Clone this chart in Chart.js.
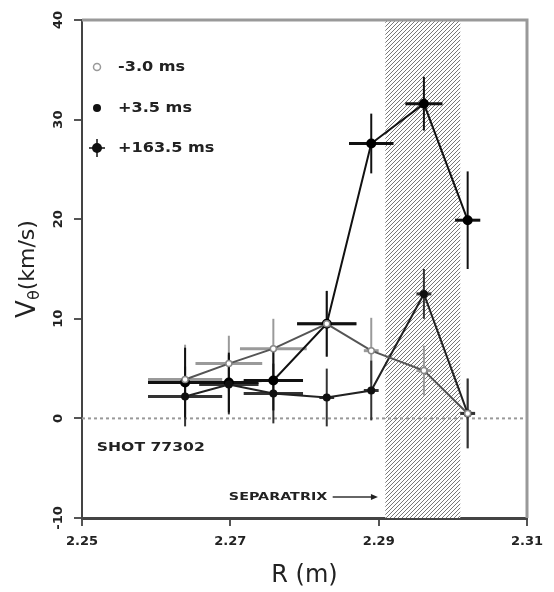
<!DOCTYPE html>
<html>
<head>
<meta charset="utf-8">
<style>
  html, body { margin: 0; padding: 0; background: #fff; }
  #wrap { width: 554px; height: 592px; }
</style>
<script src="https://cdn.jsdelivr.net/npm/chart.js@4.4.1/dist/chart.umd.min.js"></script>
</head>
<body>
<div id="wrap"><canvas id="vChart" width="554" height="592"></canvas></div>
<script>
// chord radii (m)
const radius = [2.2639, 2.2698, 2.2758, 2.2830, 2.2890, 2.2961, 2.3020];

// poloidal velocity (km/s) with vertical and radial error bars, per time slice
const vMinus3 = [3.9, 5.5, 7.0, 9.5, 6.8, 4.8, 0.5];
const vErrMinus3 = [3.5, 2.8, 3.0, 3.3, 3.3, 2.5, 3.5];
const rErrMinus3 = [0.005, 0.0045, 0.0045, 0.004, 0.001, 0.001, 0.001];

const vPlus3 = [2.2, 3.4, 2.5, 2.1, 2.8, 12.5, 0.5];
const vErrPlus3 = [3.0, 3.0, 3.0, 2.9, 3.0, 2.5, 3.5];
const rErrPlus3 = [0.005, 0.004, 0.004, 0.001, 0.001, 0.001, 0.001];

const vPlus163 = [3.6, 3.6, 3.8, 9.5, 27.6, 31.6, 19.9];
const vErrPlus163 = [3.5, 3.0, 3.0, 3.3, 3.0, 2.7, 4.9];
const rErrPlus163 = [0.005, 0.004, 0.004, 0.004, 0.003, 0.0025, 0.0017];

const seriesLabels = ['-3.0 ms', '+3.5 ms', '+163.5 ms'];

// axis ticks
const rTicks = [2.25, 2.27, 2.29, 2.31];
const vTicks = [-10, 0, 10, 20, 30, 40];

// separatrix band (m)
const separatrix = [2.2909, 2.3010];

const toPoints = (ys) => radius.map((r, i) => ({ x: r, y: ys[i] }));

// diagonal hatch for the separatrix band
function makeHatch() {
  const s = 4;
  const c = document.createElement('canvas');
  c.width = s; c.height = s;
  const g = c.getContext('2d');
  g.fillStyle = '#fff';
  g.fillRect(0, 0, s, s);
  g.strokeStyle = '#777';
  g.lineWidth = 1;
  g.beginPath();
  g.moveTo(0, s); g.lineTo(s, 0);
  g.moveTo(-1, 1); g.lineTo(1, -1);
  g.moveTo(s - 1, s + 1); g.lineTo(s + 1, s - 1);
  g.stroke();
  return g.createPattern(c, 'repeat');
}

function stretchText(ctx, text, x, y, font, sx, align) {
  ctx.save();
  ctx.font = font;
  ctx.translate(x, y);
  ctx.scale(sx, 1);
  ctx.textAlign = align || 'left';
  ctx.textBaseline = 'middle';
  ctx.fillText(text, 0, 0);
  ctx.restore();
}

const backdrop = {
  id: 'backdrop',
  beforeDatasetsDraw(chart) {
    const { ctx, chartArea: a, scales: { x, y } } = chart;
    ctx.save();
    // separatrix band
    const x0 = x.getPixelForValue(separatrix[0]);
    const x1 = x.getPixelForValue(separatrix[1]);
    ctx.fillStyle = makeHatch();
    ctx.fillRect(x0, a.top, x1 - x0, a.bottom - a.top);
    // zero line
    const y0 = y.getPixelForValue(0);
    ctx.strokeStyle = '#999';
    ctx.lineWidth = 2;
    ctx.setLineDash([3, 3]);
    ctx.beginPath();
    ctx.moveTo(a.left, y0);
    ctx.lineTo(a.right, y0);
    ctx.stroke();
    ctx.restore();
  }
};

const errorBars = {
  id: 'errorBars',
  beforeDatasetsDraw(chart) {
    const { ctx, scales: { x, y } } = chart;
    chart.data.datasets.forEach((ds) => {
      ctx.save();
      ctx.strokeStyle = ds.errColor;
      ds.data.forEach((p, j) => {
        const px = x.getPixelForValue(p.x);
        const py = y.getPixelForValue(p.y);
        ctx.lineWidth = 2;
        ctx.beginPath();
        ctx.moveTo(px, y.getPixelForValue(p.y - ds.vErr[j]));
        ctx.lineTo(px, y.getPixelForValue(p.y + ds.vErr[j]));
        ctx.stroke();
        ctx.lineWidth = 3;
        ctx.beginPath();
        ctx.moveTo(x.getPixelForValue(p.x - ds.rErr[j]), py);
        ctx.lineTo(x.getPixelForValue(p.x + ds.rErr[j]), py);
        ctx.stroke();
      });
      ctx.restore();
    });
  }
};

const labels = {
  id: 'labels',
  afterDraw(chart) {
    const { ctx, chartArea: a, scales: { x, y } } = chart;
    ctx.save();

    // top and right frame
    ctx.strokeStyle = '#999';
    ctx.lineWidth = 3;
    ctx.beginPath();
    ctx.moveTo(a.left, a.top);
    ctx.lineTo(a.right, a.top);
    ctx.lineTo(a.right, a.bottom);
    ctx.stroke();

    ctx.fillStyle = '#222';

    // legend
    const lx = a.left + 15;
    const rows = [a.top + 47, a.top + 88, a.top + 128];
    ctx.lineWidth = 1.5;
    ctx.strokeStyle = '#999';
    ctx.beginPath();
    ctx.arc(lx, rows[0], 3.5, 0, Math.PI * 2);
    ctx.stroke();
    ctx.fillStyle = '#111';
    ctx.beginPath();
    ctx.arc(lx, rows[1], 4, 0, Math.PI * 2);
    ctx.fill();
    ctx.beginPath();
    ctx.arc(lx, rows[2], 5, 0, Math.PI * 2);
    ctx.fill();
    ctx.strokeStyle = '#111';
    ctx.beginPath();
    ctx.moveTo(lx, rows[2] - 9); ctx.lineTo(lx, rows[2] + 9);
    ctx.moveTo(lx - 8, rows[2]); ctx.lineTo(lx + 8, rows[2]);
    ctx.stroke();
    ctx.fillStyle = '#222';
    seriesLabels.forEach((t, i) => {
      stretchText(ctx, t, lx + 21, rows[i], 'bold 14px "DejaVu Sans"', 1.15);
    });

    // shot number and separatrix marker
    stretchText(ctx, 'SHOT 77302', x.getPixelForValue(2.252), y.getPixelForValue(-2.9),
      'bold 13px "DejaVu Sans"', 1.2);
    stretchText(ctx, 'SEPARATRIX', x.getPixelForValue(2.2698), y.getPixelForValue(-7.9),
      'bold 11px "DejaVu Sans"', 1.3);
    const ay = y.getPixelForValue(-7.9);
    const ax0 = x.getPixelForValue(2.2838);
    const ax1 = x.getPixelForValue(2.2899);
    ctx.strokeStyle = '#333';
    ctx.lineWidth = 1.5;
    ctx.beginPath();
    ctx.moveTo(ax0, ay); ctx.lineTo(ax1 - 4, ay);
    ctx.stroke();
    ctx.fillStyle = '#222';
    ctx.beginPath();
    ctx.moveTo(ax1, ay); ctx.lineTo(ax1 - 7, ay - 3); ctx.lineTo(ax1 - 7, ay + 3);
    ctx.closePath();
    ctx.fill();

    // x title
    ctx.font = '24px "DejaVu Sans"';
    ctx.textAlign = 'center';
    ctx.textBaseline = 'middle';
    ctx.fillText('R (m)', (a.left + a.right) / 2, 576);

    // y title with subscript
    ctx.translate(28, (a.top + a.bottom) / 2);
    ctx.rotate(-Math.PI / 2);
    ctx.textAlign = 'left';
    const parts = [
      { t: 'V', f: '26px "DejaVu Sans"', dy: 0 },
      { t: 'θ', f: '16px "DejaVu Sans"', dy: 7 },
      { t: '(km/s)', f: '22px "DejaVu Sans"', dy: 0 }
    ];
    let total = 0;
    parts.forEach((p) => { ctx.font = p.f; p.w = ctx.measureText(p.t).width; total += p.w; });
    let cx = -total / 2;
    parts.forEach((p) => {
      ctx.font = p.f;
      ctx.fillText(p.t, cx, p.dy);
      cx += p.w;
    });
    ctx.restore();
  }
};

new Chart(document.getElementById('vChart'), {
  type: 'scatter',
  data: {
    datasets: [
      {
        label: seriesLabels[0],
        data: toPoints(vMinus3),
        vErr: vErrMinus3, rErr: rErrMinus3, errColor: '#9a9a9a',
        showLine: true, borderColor: '#555', borderWidth: 2,
        pointRadius: 3, pointBackgroundColor: '#fff', pointBorderColor: '#888', pointBorderWidth: 1.5
      },
      {
        label: seriesLabels[1],
        data: toPoints(vPlus3),
        vErr: vErrPlus3, rErr: rErrPlus3, errColor: '#333',
        showLine: true, borderColor: '#222', borderWidth: 2,
        pointRadius: 3, pointBackgroundColor: '#111', pointBorderColor: '#111'
      },
      {
        label: seriesLabels[2],
        data: toPoints(vPlus163),
        vErr: vErrPlus163, rErr: rErrPlus163, errColor: '#111',
        showLine: true, borderColor: '#111', borderWidth: 2,
        pointRadius: 4, pointBackgroundColor: '#000', pointBorderColor: '#000'
      }
    ]
  },
  options: {
    responsive: false,
    animation: false,
    layout: { padding: { left: 0, right: 27, top: 20, bottom: 0 } },
    plugins: { legend: { display: false }, tooltip: { enabled: false } },
    scales: {
      x: {
        type: 'linear', min: 2.25, max: 2.31,
        afterBuildTicks: (s) => { s.ticks = rTicks.map((v) => ({ value: v })); },
        afterFit: (s) => { s.height = 74; },
        border: { display: true, color: '#444', width: 3 },
        grid: { display: true, drawOnChartArea: false, drawTicks: true, tickLength: 8, color: '#555', lineWidth: 2 },
        ticks: {
          padding: 8, color: '#222', maxRotation: 0,
          font: { family: 'DejaVu Sans', size: 13, weight: 'bold' },
          callback: (v) => v.toFixed(2)
        }
      },
      y: {
        type: 'linear', min: -10, max: 40,
        afterBuildTicks: (s) => { s.ticks = vTicks.map((v) => ({ value: v })); },
        afterFit: (s) => { s.width = 82; },
        border: { display: true, color: '#444', width: 2 },
        grid: { display: true, drawOnChartArea: false, drawTicks: true, tickLength: 8, color: '#555', lineWidth: 2 },
        ticks: {
          padding: 4, color: '#222', minRotation: 90, maxRotation: 90, crossAlign: 'center',
          font: { family: 'DejaVu Sans', size: 13, weight: 'bold' },
          callback: (v) => String(v)
        }
      }
    }
  },
  plugins: [backdrop, errorBars, labels]
});
</script>
</body>
</html>
